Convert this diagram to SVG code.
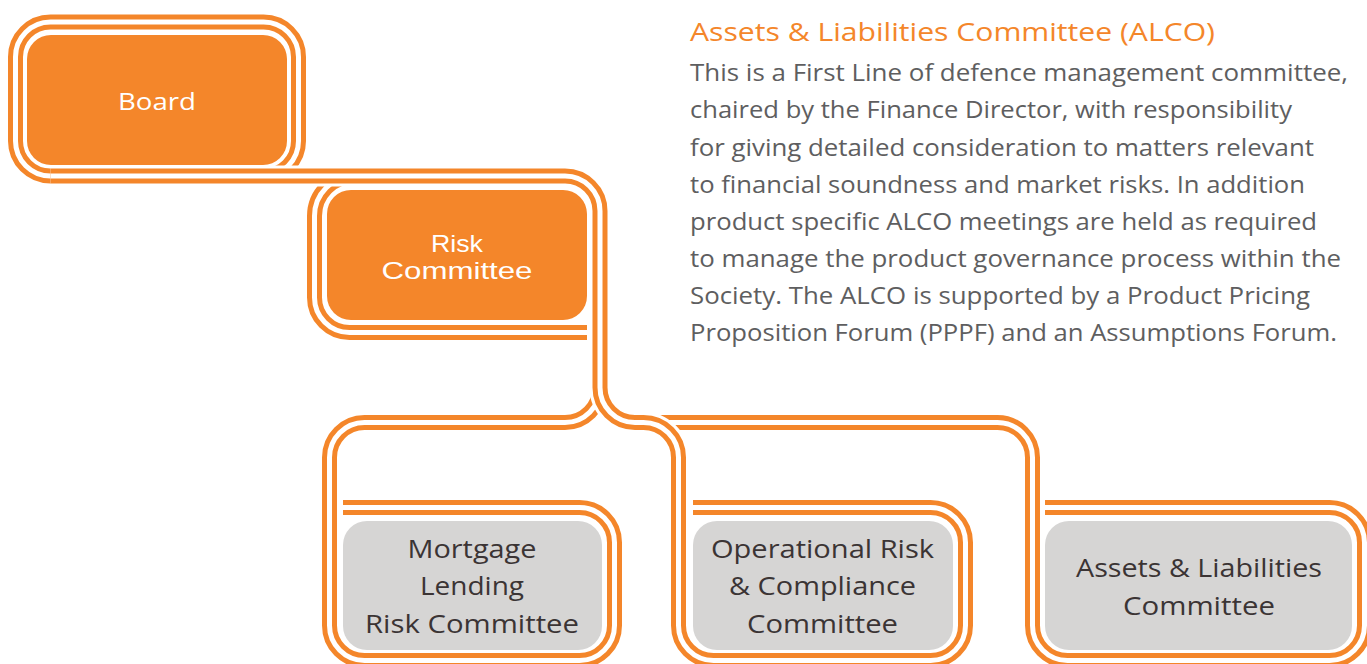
<svg xmlns="http://www.w3.org/2000/svg" xmlns:xlink="http://www.w3.org/1999/xlink" width="1367" height="664" viewBox="0 0 1367 664">
<style>
.h{fill:none;stroke:#ffffff;stroke-width:21}
.o{fill:none;stroke:#F4862A;stroke-width:15}
.w{fill:none;stroke:#ffffff;stroke-width:5}
.fo{fill:#F4862A}
.fg{fill:#D6D5D4}
text{font-family:'Open Sans','Liberation Sans',sans-serif;font-variant-ligatures:none}
.tw{font-size:24px;fill:#ffffff;text-anchor:middle}
.tr{font-family:'Liberation Sans',sans-serif;font-size:24px;fill:#ffffff;text-anchor:middle}
.td{font-size:25px;fill:#3B3434;text-anchor:middle}
.body{font-size:23px;fill:#5E5E60}
.head{font-size:25px;fill:#F4862A}
</style>
<defs>
<path id="pBoard" d="M263.5,176 A35,35 0 0 0 298.5,141 V57 A35,35 0 0 0 263.5,22 H50.5 A35,35 0 0 0 15.5,57 V141 A35,35 0 0 0 50.5,176 H120"/>
<path id="pRisk" d="M354.5,176 A40,40 0 0 0 314.5,216 V297.5 A35,35 0 0 0 349.5,332.5 H587"/>
<path id="pMort" d="M600,370 V387.5 A35,35 0 0 1 565,422.5 H364.5 A35,35 0 0 0 329.5,457.5 V625.5 A35,35 0 0 0 364.5,660.5 H579.5 A35,35 0 0 0 614.5,625.5 V542.5 A35,35 0 0 0 579.5,507.5 H343"/>
<path id="pAlco" d="M636,422.5 H997.5 A35,35 0 0 1 1032.5,457.5 V625.5 A35,35 0 0 0 1067.5,660.5 H1329.5 A35,35 0 0 0 1364.5,625.5 V542.5 A35,35 0 0 0 1329.5,507.5 H1045"/>
<path id="pTrunk" d="M50.5,176 H565 A35,35 0 0 1 600,211 V387.5 A35,35 0 0 0 635,422.5 H643.5 A35,35 0 0 1 678.5,457.5 V625.5 A35,35 0 0 0 713.5,660.5 H930.5 A35,35 0 0 0 965.5,625.5 V542.5 A35,35 0 0 0 930.5,507.5 H693"/>
</defs>
<g id="connectors">
<use href="#pBoard" class="h"/><use href="#pBoard" class="o"/><use href="#pBoard" class="w"/>
<use href="#pRisk" class="h"/><use href="#pRisk" class="o"/><use href="#pRisk" class="w"/>
<use href="#pMort" class="h"/><use href="#pMort" class="o"/><use href="#pMort" class="w"/>
<use href="#pAlco" class="h"/><use href="#pAlco" class="o"/><use href="#pAlco" class="w"/>
<use href="#pTrunk" class="h"/><use href="#pTrunk" class="o"/><use href="#pTrunk" class="w"/>
</g>
<g id="board">
<rect class="fo" x="27" y="35" width="260" height="130" rx="24"/>
<text class="tw" x="157" y="110" textLength="78" lengthAdjust="spacingAndGlyphs">Board</text>
</g>
<g id="risk-committee">
<rect class="fo" x="327" y="190" width="260" height="130" rx="24"/>
<text class="tr" x="457" y="252" textLength="52" lengthAdjust="spacingAndGlyphs">Risk</text>
<text class="tr" x="457" y="279" textLength="151" lengthAdjust="spacingAndGlyphs">Committee</text>
</g>
<g id="mortgage-lending">
<rect class="fg" x="343" y="521" width="259" height="129" rx="24"/>
<text class="td" x="472" y="558" textLength="129" lengthAdjust="spacingAndGlyphs">Mortgage</text>
<text class="td" x="472" y="595" textLength="104" lengthAdjust="spacingAndGlyphs">Lending</text>
<text class="td" x="472" y="633" textLength="214" lengthAdjust="spacingAndGlyphs">Risk Committee</text>
</g>
<g id="operational-risk">
<rect class="fg" x="693" y="521" width="260" height="129" rx="24"/>
<text class="td" x="822.5" y="558" textLength="223" lengthAdjust="spacingAndGlyphs">Operational Risk</text>
<text class="td" x="822.5" y="595" textLength="187" lengthAdjust="spacingAndGlyphs">&amp; Compliance</text>
<text class="td" x="822.5" y="633" textLength="151" lengthAdjust="spacingAndGlyphs">Committee</text>
</g>
<g id="alco">
<rect class="fg" x="1045" y="521" width="307" height="129" rx="24"/>
<text class="td" x="1199" y="577" textLength="246" lengthAdjust="spacingAndGlyphs">Assets &amp; Liabilities</text>
<text class="td" x="1199" y="615" textLength="152" lengthAdjust="spacingAndGlyphs">Committee</text>
</g>
<g id="description">
<text class="head" x="690" y="41" textLength="525" lengthAdjust="spacingAndGlyphs">Assets &amp; Liabilities Committee (ALCO)</text>
<text class="body" x="690" y="81" textLength="658" lengthAdjust="spacingAndGlyphs">This is a First Line of defence management committee,</text>
<text class="body" x="690" y="118" textLength="602" lengthAdjust="spacingAndGlyphs">chaired by the Finance Director, with responsibility</text>
<text class="body" x="690" y="155.5" textLength="624" lengthAdjust="spacingAndGlyphs">for giving detailed consideration to matters relevant</text>
<text class="body" x="690" y="192.5" textLength="615" lengthAdjust="spacingAndGlyphs">to financial soundness and market risks. In addition</text>
<text class="body" x="690" y="230" textLength="627" lengthAdjust="spacingAndGlyphs">product specific ALCO meetings are held as required</text>
<text class="body" x="690" y="267" textLength="651" lengthAdjust="spacingAndGlyphs">to manage the product governance process within the</text>
<text class="body" x="690" y="304" textLength="620" lengthAdjust="spacingAndGlyphs">Society. The ALCO is supported by a Product Pricing</text>
<text class="body" x="690" y="341" textLength="647" lengthAdjust="spacingAndGlyphs">Proposition Forum (PPPF) and an Assumptions Forum.</text>
</g>
</svg>
